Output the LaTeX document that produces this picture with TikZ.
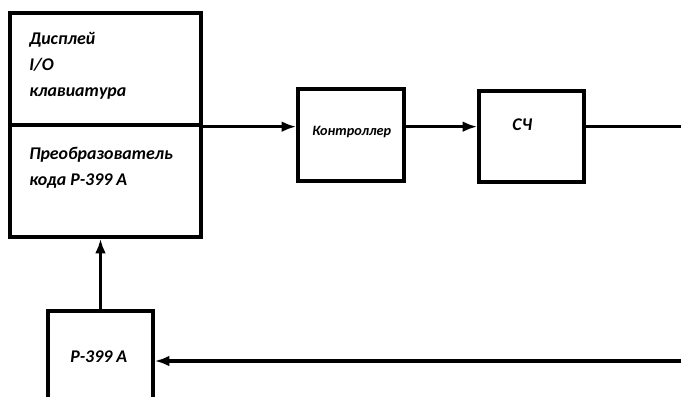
\documentclass[tikz,border=0pt]{standalone}
\usepackage{fontspec}
\setmainfont{Carlito}
\usetikzlibrary{arrows.meta}

\tikzset{
  blok/.style={draw, line width=2.5pt, inner sep=0pt, minimum width=#1},
  txt/.style={anchor=base west, inner sep=0pt, font=\bfseries\itshape\fontsize{13.4}{19.5}\selectfont},
  strelka/.style={line width=2.5pt, -{Latex[length=11pt,width=8pt]}},
  linia/.style={line width=2.5pt}
}

\begin{document}
\begin{tikzpicture}[x=0.75pt,y=0.75pt,yscale=-1,xscale=1]
\useasboundingbox (0,0) rectangle (681,396);
\clip (0,0) rectangle (681,396);
    %Shape: Rectangle [id:displej]
    \node [blok=143.25pt, minimum height=84pt] (disp) at (105.5,69) {};
    %Shape: Rectangle [id:preobr]
    \node [blok=143.25pt, minimum height=84pt] (conv) at (105.5,181) {};
    %Shape: Rectangle [id:kontr]
    \node [blok=79.5pt, minimum height=69pt] (ctrl) at (351,135) {};
    %Shape: Rectangle [id:sch]
    \node [blok=78.75pt, minimum height=68.25pt] (sch) at (531.5,136.5) {};
    %Shape: Rectangle [id:r399]
    \node [blok=78.75pt, minimum height=81.75pt] (r399) at (100.5,365.5) {};

    \coordinate (rkraj) at (684,0);
    \coordinate (inR) at (684,361);

    %Straight Lines
    \draw [strelka] (disp.south east) -- (disp.south east -| ctrl.west);
    \draw [strelka] (disp.south east -| ctrl.east) -- (disp.south east -| sch.west);
    \draw [linia] (disp.south east -| sch.east) -- (disp.south east -| rkraj);
    \draw [strelka] (inR) -- (inR -| r399.east);
    \draw [strelka] (r399.north) -- (r399.north |- conv.south);

    % Text Node
    \node [txt] (tdispa) at (29,44) {Дисплей};
    \node [txt] (tdispb) at (29,70) {I/O};
    \node [txt] (tdispc) at (29,96) {клавиатура};
    % Text Node
    \node [txt] (tconva) at (29,159) {Преобразователь};
    \node [txt] (tconvb) at (29,185) {кода Р-399 А};
    % Text Node
    \node [txt, font=\bfseries\itshape\fontsize{10.7}{13}\selectfont] (tctrl) at (312,135) {Контроллер};
    % Text Node
    \node [txt] (tsch) at (512,130) {СЧ};
    % Text Node
    \node [txt] (tr399) at (70,362) {Р-399 А};

\end{tikzpicture}
\end{document}
